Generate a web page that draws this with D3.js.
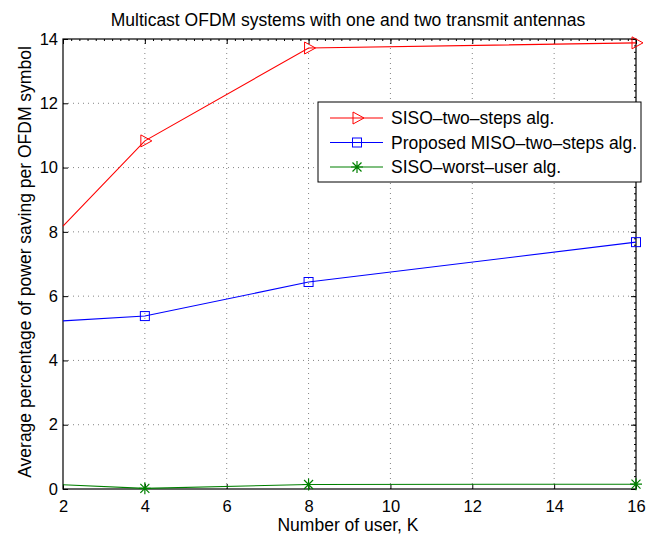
<!DOCTYPE html>
<html>
<head>
<meta charset="utf-8">
<script src="https://cdn.jsdelivr.net/npm/d3@7"></script>
<style>
  body { margin: 0; background: #fff; }
  text { font-family: "Liberation Sans", Arial, sans-serif; fill: #000; }
</style>
</head>
<body>
<svg id="chart" width="656" height="534"></svg>
<script>
// values
var users = [2, 4, 8, 16];
var sisoTwoSteps = [8.18, 10.83, 13.72, 13.88];
var misoTwoSteps = [5.23, 5.38, 6.44, 7.68];
var sisoWorstUser = [0.13, 0.02, 0.14, 0.15];
var seriesNames = ["SISO\u2013two\u2013steps alg.", "Proposed MISO\u2013two\u2013steps alg.", "SISO\u2013worst\u2013user alg."];
var xTicks = [2, 4, 6, 8, 10, 12, 14, 16];
var yTicks = [0, 2, 4, 6, 8, 10, 12, 14];

var svg = d3.select("#chart"),
    margin = {top: 39, left: 63, bottom: 45, right: 20},
    width = +svg.attr("width"),
    height = +svg.attr("height");

var x = d3.scaleLinear().domain([2, 16]).range([margin.left, width - margin.right]);
var y = d3.scaleLinear().domain([0, 14]).range([height - margin.bottom, margin.top]);

var series = [
    {name: seriesNames[0], vals: sisoTwoSteps, color: "#ff0000", marker: "tri"},
    {name: seriesNames[1], vals: misoTwoSteps, color: "#0000ff", marker: "sq"},
    {name: seriesNames[2], vals: sisoWorstUser, color: "#008000", marker: "star"}
];

// dotted grid
var grid = svg.append("g").attr("stroke", "#000").attr("stroke-width", 0.8)
    .attr("stroke-dasharray", "1,4").attr("opacity", 0.6);
grid.selectAll("line.gx").data(xTicks.slice(1, -1)).enter().append("line")
    .attr("x1", d => x(d)).attr("x2", d => x(d))
    .attr("y1", y(0)).attr("y2", y(14));
grid.selectAll("line.gy").data(yTicks.slice(1, -1)).enter().append("line")
    .attr("class", "gy")
    .attr("x1", x(2)).attr("x2", x(16))
    .attr("y1", d => y(d)).attr("y2", d => y(d));

// axes, ticks pointing in like matlab
svg.append("g").attr("transform", `translate(0,${y(0)})`)
    .call(d3.axisBottom(x).tickValues(xTicks).tickSize(-5).tickPadding(11).tickSizeOuter(0))
    .call(g => g.select(".domain").remove())
    .selectAll("text").style("font-size", "16.5px");
svg.append("g").attr("transform", `translate(${x(2)},0)`)
    .call(d3.axisLeft(y).tickValues(yTicks).tickSize(-5).tickPadding(5).tickSizeOuter(0))
    .call(g => g.select(".domain").remove())
    .selectAll("text").style("font-size", "16.5px");
svg.append("g").attr("transform", `translate(0,${y(14)})`)
    .call(d3.axisTop(x).tickValues(d3.range(2, 16.01, 0.2)).tickSize(-2).tickFormat("").tickSizeOuter(0))
    .call(g => g.select(".domain").remove());
svg.append("g").attr("transform", `translate(0,${y(14)})`)
    .call(d3.axisTop(x).tickValues(xTicks).tickSize(-5).tickFormat("").tickSizeOuter(0))
    .call(g => g.select(".domain").remove());
svg.append("g").attr("transform", `translate(${x(16)},0)`)
    .call(d3.axisRight(y).tickValues(d3.range(0, 14.01, 0.2)).tickSize(-2).tickFormat("").tickSizeOuter(0))
    .call(g => g.select(".domain").remove());
svg.append("g").attr("transform", `translate(${x(16)},0)`)
    .call(d3.axisRight(y).tickValues(yTicks).tickSize(-5).tickFormat("").tickSizeOuter(0))
    .call(g => g.select(".domain").remove());
svg.selectAll(".tick line").attr("stroke", "#000");

svg.append("rect")
    .attr("x", x(2)).attr("y", y(14))
    .attr("width", x(16) - x(2)).attr("height", y(0) - y(14))
    .attr("fill", "none").attr("stroke", "#000").attr("stroke-width", 1.2);

function drawMarker(g, type, color) {
    if (type == "tri") {
        g.append("path").attr("d", "M-4,-6L7,0L-4,6Z")
            .attr("fill", "none").attr("stroke", color).attr("stroke-width", 1);
    } else if (type == "sq") {
        g.append("rect").attr("x", -4.5).attr("y", -4.5).attr("width", 9).attr("height", 9)
            .attr("fill", "none").attr("stroke", color).attr("stroke-width", 1);
    } else {
        g.append("path").attr("d", "M-6,0L6,0M0,-6L0,6M-4.5,-4.5L4.5,4.5M-4.5,4.5L4.5,-4.5")
            .attr("stroke", color).attr("stroke-width", 1.2);
    }
}

var line = d3.line().x((d, i) => x(users[i])).y(d => y(d));

series.forEach(function(s) {
    svg.append("path").datum(s.vals)
        .attr("d", line)
        .attr("fill", "none").attr("stroke", s.color).attr("stroke-width", 1.1);
    // the first point sits on the left limit, matlab shows no marker there
    s.vals.forEach(function(v, i) {
        if (users[i] <= x.domain()[0]) return;
        var g = svg.append("g").attr("transform", `translate(${x(users[i])},${y(v)})`);
        drawMarker(g, s.marker, s.color);
    });
});

// legend
var legend = svg.append("g").attr("transform", "translate(318,102)");
legend.append("rect").attr("width", 323).attr("height", 80)
    .attr("fill", "#fff").attr("stroke", "#000").attr("stroke-width", 1);
series.forEach(function(s, i) {
    var yy = 16 + i * 24.5;
    legend.append("line").attr("x1", 12).attr("x2", 65).attr("y1", yy).attr("y2", yy)
        .attr("stroke", s.color).attr("stroke-width", 1.1);
    var g = legend.append("g").attr("transform", `translate(39,${yy})`);
    drawMarker(g, s.marker, s.color);
    legend.append("text").attr("x", 73).attr("y", yy).attr("dy", "0.36em")
        .style("font-size", "17.5px").text(s.name);
});

// titles
svg.append("text").attr("x", 348).attr("y", 26).attr("text-anchor", "middle")
    .style("font-size", "17.5px").text("Multicast OFDM systems with one and two transmit antennas");
svg.append("text").attr("x", 348).attr("y", 531).attr("text-anchor", "middle")
    .style("font-size", "17.5px").text("Number of user, K");
svg.append("text").attr("transform", "translate(31,262) rotate(-90)").attr("text-anchor", "middle")
    .style("font-size", "17.5px").text("Average percentage of power saving per OFDM symbol");
</script>
</body>
</html>
